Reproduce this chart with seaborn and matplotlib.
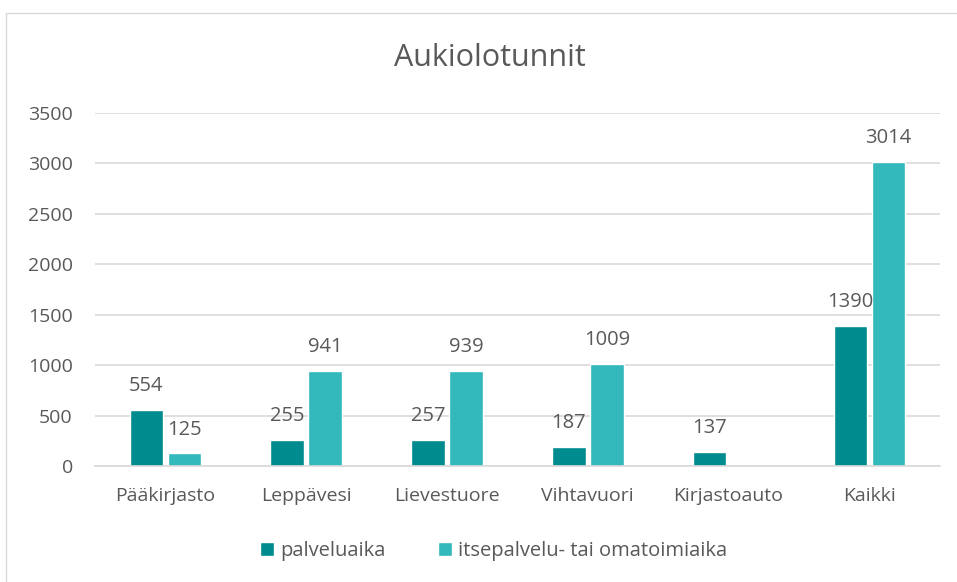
import pandas as pd
import numpy as np
import seaborn as sns
import matplotlib.pyplot as plt
from matplotlib.patches import Rectangle

categories = ["Pääkirjasto", "Leppävesi", "Lievestuore", "Vihtavuori", "Kirjastoauto", "Kaikki"]
palveluaika = [554, 255, 257, 187, 137, 1390]
itsepalvelu = [125, 941, 939, 1009, np.nan, 3014]
series_names = ["palveluaika", "itsepalvelu- tai omatoimiaika"]
colors = ["#008B8F", "#33B8BC"]

df = pd.DataFrame({
    "kirjasto": categories * 2,
    "sarja": [series_names[0]] * len(categories) + [series_names[1]] * len(categories),
    "tunnit": palveluaika + itsepalvelu,
})

sns.set_theme(style="white")
plt.rcParams["font.family"] = ["Open Sans", "DejaVu Sans"]
text_col = "#595959"

fig = plt.figure(figsize=(9.57, 5.82), dpi=100)
ax = fig.add_axes([0.0993, 0.1993, 0.8827, 0.6067])

sns.barplot(data=df, x="kirjasto", y="tunnit", hue="sarja", palette=colors,
            width=0.54, gap=0.12, ax=ax, legend=True, saturation=1)

for cont in ax.containers:
    ax.bar_label(cont, padding=10, fontsize=14.5, color=text_col)

ax.set_ylim(0, 3500)
ax.set_yticks(range(0, 3501, 500))
ax.yaxis.grid(True, color="#d9d9d9", linewidth=1.2)
ax.set_axisbelow(True)
for s in ["top", "right", "left"]:
    ax.spines[s].set_visible(False)
ax.spines["bottom"].set_color("#d9d9d9")
ax.spines["bottom"].set_linewidth(1.2)
ax.set_xlabel("")
ax.set_ylabel("")
ax.tick_params(axis="both", length=0, labelsize=14, labelcolor=text_col)
ax.tick_params(axis="y", pad=16)
ax.tick_params(axis="x", pad=15)

ax.legend(loc="center", bbox_to_anchor=(0.472, -0.24), ncol=2, frameon=False,
          fontsize=14.5, labelcolor=text_col, handlelength=0.7, handleheight=0.7,
          handletextpad=0.3, columnspacing=2.6)

fig.text(0.512, 0.9, "Aukiolotunnit", ha="center", va="center", fontsize=22, color=text_col)

fig.patches.append(Rectangle((0.006, -0.01), 1.0, 0.988, transform=fig.transFigure,
                             fill=False, edgecolor="#d9d9d9", linewidth=1))

fig.savefig("out.png", dpi=100)
